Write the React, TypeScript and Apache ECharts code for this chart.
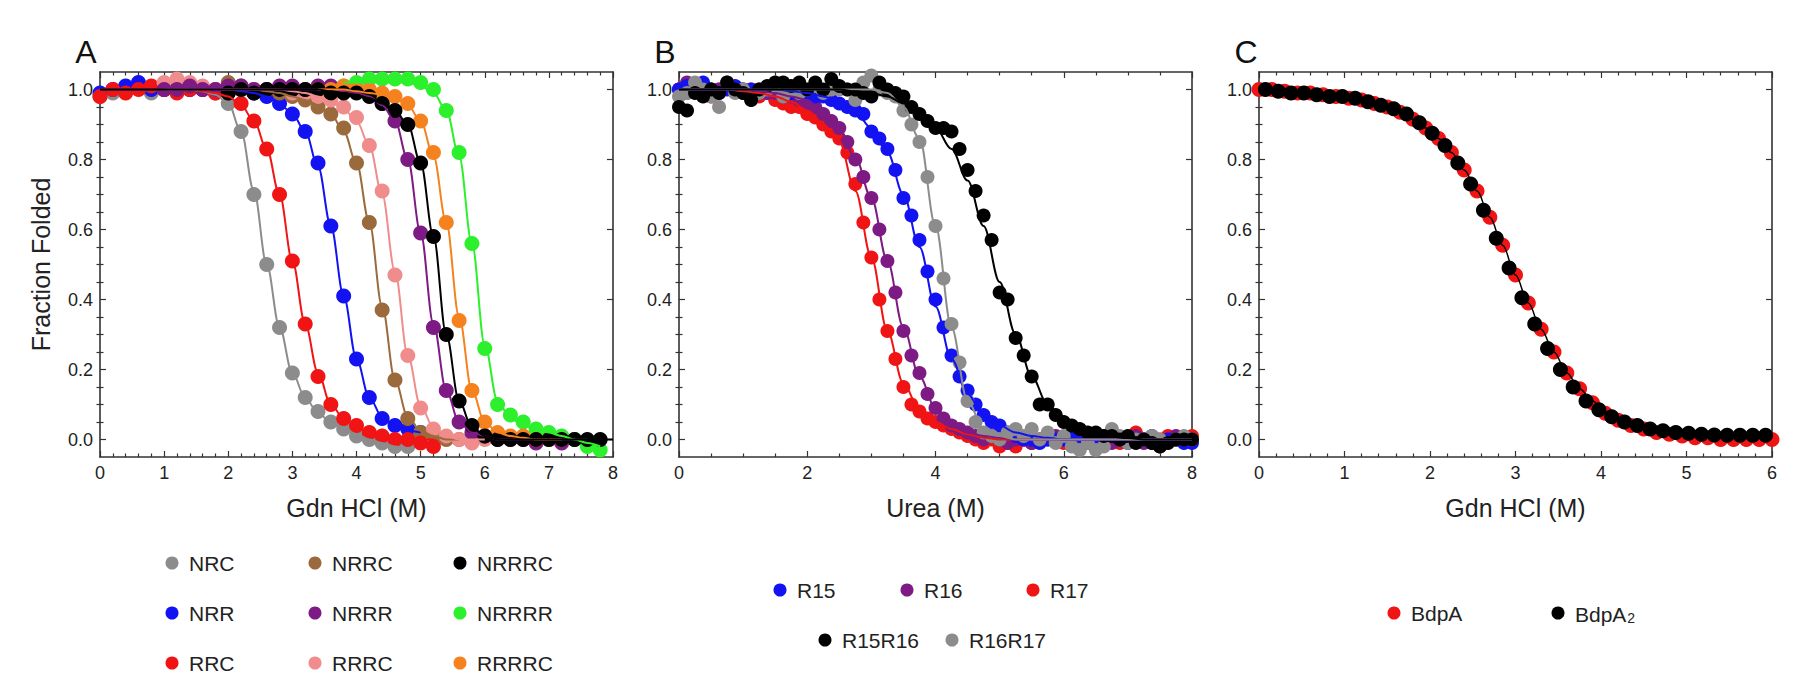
import React, { useEffect, useRef } from 'react';
import * as echarts from 'echarts';

const FONT = '"Liberation Sans", Arial, Helvetica, sans-serif';
const _ = null;

// ---------- Panel A : Gdn HCl (M), 0.2 M steps ----------
const xA = [0, 0.2, 0.4, 0.6, 0.8, 1.0, 1.2, 1.4, 1.6, 1.8, 2.0, 2.2, 2.4, 2.6, 2.8, 3.0, 3.2, 3.4, 3.6, 3.8,
  4.0, 4.2, 4.4, 4.6, 4.8, 5.0, 5.2, 5.4, 5.6, 5.8, 6.0, 6.2, 6.4, 6.6, 6.8, 7.0, 7.2, 7.4, 7.6, 7.8, 8.0];

const NRC = [0.98, 0.99, 1.0, 1.01, 0.99, 1.0, 1.01, 1.0, 1.0, 0.99, 0.96, 0.88, 0.70, 0.50, 0.32, 0.19, 0.12, 0.08, 0.05, 0.03,
  0.01, 0.0, -0.01, -0.02, -0.02, _, _, _, _, _, _, _, _, _, _, _, _, _, _, _, _];
const NRC_fit = [1, 1, 1, 1, 1, 1, 1, 1, 0.995, 0.985, 0.96, 0.88, 0.71, 0.50, 0.32, 0.19, 0.12, 0.075, 0.05, 0.03,
  0.015, 0.0, -0.01, -0.02, -0.03, _, _, _, _, _, _, _, _, _, _, _, _, _, _, _, _];

const RRC = [0.98, 1.0, 0.99, 1.0, 1.01, 1.0, 0.99, 1.0, 1.0, 0.99, 0.99, 0.96, 0.91, 0.83, 0.70, 0.51, 0.33, 0.18, 0.10, 0.06,
  0.04, 0.02, 0.01, 0.0, 0.0, -0.01, -0.02, _, _, _, _, _, _, _, _, _, _, _, _, _, _];
const RRC_fit = [1, 1, 1, 1, 1, 1, 1, 1, 0.995, 0.99, 0.98, 0.955, 0.91, 0.83, 0.70, 0.51, 0.33, 0.19, 0.10, 0.06,
  0.035, 0.02, 0.01, 0.005, 0, 0, 0, _, _, _, _, _, _, _, _, _, _, _, _, _, _];

const NRR = [0.99, 1.0, 1.01, 1.02, 1.0, 1.0, 1.01, 1.0, 1.0, 1.0, 1.0, 1.0, 0.99, 0.98, 0.96, 0.93, 0.88, 0.79, 0.61, 0.41,
  0.23, 0.12, 0.06, 0.04, 0.03, 0.02, _, _, _, _, _, _, _, _, _, _, _, _, _, _, _];
const NRR_fit = [1, 1, 1, 1, 1, 1, 1, 1, 1, 1, 1, 0.995, 0.99, 0.98, 0.96, 0.93, 0.88, 0.78, 0.61, 0.41,
  0.23, 0.12, 0.065, 0.04, 0.025, 0.02, _, _, _, _, _, _, _, _, _, _, _, _, _, _, _];

const NRRC = [_, _, _, _, _, _, _, _, _, _, 1.02, 1.01, 1.0, 1.0, 0.99, 0.98, 0.97, 0.95, 0.93, 0.89,
  0.79, 0.62, 0.37, 0.17, 0.06, 0.02, 0.01, 0.0, 0.0, _, _, _, _, _, _, _, _, _, _, _, _];
const NRRC_fit = [_, _, _, _, _, _, _, _, _, _, 1.0, 1.0, 1.0, 0.995, 0.99, 0.98, 0.97, 0.955, 0.93, 0.88,
  0.79, 0.62, 0.38, 0.17, 0.065, 0.025, 0.01, 0.0, 0.0, _, _, _, _, _, _, _, _, _, _, _, _];

const NRRR = [_, _, _, _, _, 1.0, 1.0, 1.01, 1.0, 1.0, 1.01, 1.01, 1.0, 1.0, 1.01, 1.01, 1.0, 1.01, 1.01, 1.0,
  1.0, 0.99, 0.96, 0.91, 0.80, 0.59, 0.32, 0.14, 0.05, 0.02, 0.01, 0.0, 0.0, 0.0, -0.01, 0.0, -0.01, 0.0, -0.01, _, _];
const NRRR_fit = [_, _, _, _, _, 1, 1, 1, 1, 1, 1, 1, 1, 1, 1, 1, 1, 1, 1, 0.995,
  0.99, 0.98, 0.955, 0.91, 0.80, 0.59, 0.33, 0.14, 0.05, 0.02, 0.01, 0, 0, 0, 0, 0, 0, 0, 0, _, _];

const RRRC = [_, _, _, _, _, 1.02, 1.03, 1.02, 1.01, 1.0, 1.0, 1.0, 1.0, 1.0, 1.0, 0.99, 0.99, 0.98, 0.97, 0.95,
  0.92, 0.84, 0.71, 0.47, 0.24, 0.09, 0.03, 0.01, 0.0, -0.01, 0.0, _, _, _, _, _, _, _, _, _, _];
const RRRC_fit = [_, _, _, _, _, 1, 1, 1, 1, 1, 1, 1, 1, 1, 1, 0.995, 0.99, 0.98, 0.965, 0.945,
  0.91, 0.84, 0.70, 0.48, 0.24, 0.095, 0.035, 0.01, 0.0, 0.0, 0.0, _, _, _, _, _, _, _, _, _, _];

const NRRRC = [_, _, _, _, _, _, _, _, _, _, 0.99, 1.0, 0.99, 1.0, 1.0, 1.0, 1.0, 1.0, 0.99, 0.99,
  0.99, 0.98, 0.96, 0.94, 0.90, 0.79, 0.58, 0.30, 0.11, 0.04, 0.01, 0.0, 0.0, 0.0, 0.0, 0.0, 0.0, 0.0, 0.0, 0.0, _];
const NRRRC_fit = [1, 1, 1, 1, 1, 1, 1, 1, 1, 1, 1, 1, 1, 1, 1, 1, 1, 1, 0.995, 0.99,
  0.985, 0.975, 0.96, 0.94, 0.90, 0.79, 0.58, 0.30, 0.11, 0.035, 0.01, 0, 0, 0, 0, 0, 0, 0, 0, 0, 0];

const RRRRC = [_, _, _, _, _, _, _, _, _, _, _, _, _, _, _, _, _, 1.0, 1.0, 1.01,
  1.0, 1.0, 0.99, 0.98, 0.96, 0.91, 0.82, 0.62, 0.34, 0.14, 0.05, 0.02, 0.01, 0.01, 0.0, 0.0, 0.0, _, _, _, _];
const RRRRC_fit = [_, _, _, _, _, _, _, _, _, _, _, _, _, _, _, _, _, 1, 1, 1,
  0.995, 0.99, 0.985, 0.975, 0.955, 0.91, 0.81, 0.62, 0.35, 0.14, 0.05, 0.02, 0.01, 0.005, 0, 0, 0, _, _, _, _];

const NRRRR = [_, _, _, _, _, _, _, _, _, _, _, _, _, _, _, _, _, _, _, 1.01,
  1.02, 1.03, 1.03, 1.03, 1.03, 1.02, 1.0, 0.94, 0.82, 0.56, 0.26, 0.10, 0.07, 0.05, 0.03, 0.02, 0.01, 0.0, -0.02, -0.03, _];
const NRRRR_fit = [_, _, _, _, _, _, _, _, _, _, _, _, _, _, _, _, _, _, _, 1.02,
  1.02, 1.02, 1.02, 1.02, 1.02, 1.01, 0.99, 0.94, 0.81, 0.56, 0.27, 0.11, 0.06, 0.04, 0.03, 0.02, 0.01, 0.0, -0.01, -0.02, _];

// ---------- Panel B : Urea (M), 0.125 M steps ----------
const xB = [0, 0.125, 0.25, 0.375, 0.5, 0.625, 0.75, 0.875, 1, 1.125, 1.25, 1.375, 1.5, 1.625, 1.75, 1.875,
  2, 2.125, 2.25, 2.375, 2.5, 2.625, 2.75, 2.875, 3, 3.125, 3.25, 3.375, 3.5, 3.625, 3.75, 3.875,
  4, 4.125, 4.25, 4.375, 4.5, 4.625, 4.75, 4.875, 5, 5.125, 5.25, 5.375, 5.5, 5.625, 5.75, 5.875,
  6, 6.125, 6.25, 6.375, 6.5, 6.625, 6.75, 6.875, 7, 7.125, 7.25, 7.375, 7.5, 7.625, 7.75, 7.875, 8];
const xBfit = [0, 0.25, 0.5, 0.75, 1, 1.25, 1.5, 1.75, 2, 2.25, 2.5, 2.75, 3, 3.25, 3.5, 3.75, 4, 4.25, 4.5, 4.75,
  5, 5.25, 5.5, 5.75, 6, 6.25, 6.5, 6.75, 7, 7.25, 7.5, 7.75, 8];

const R17 = [1.0, 0.99, 1.01, 1.0, 0.98, 1.0, 1.01, 1.0, 0.99, 1.0, 0.98, 0.99, 0.97, 0.96, 0.95, 0.95,
  0.93, 0.92, 0.90, 0.88, 0.86, 0.82, 0.73, 0.62, 0.52, 0.40, 0.31, 0.23, 0.15, 0.10, 0.08, 0.06,
  0.05, 0.04, 0.03, 0.02, 0.01, 0.0, -0.01, 0.0, -0.02, -0.01, -0.02, 0.0, -0.01, 0.0, 0.01, 0.0,
  -0.01, 0.0, -0.02, -0.01, 0.0, 0.01, 0.0, -0.01, 0.0, 0.02, 0.0, -0.01, 0.0, 0.01, 0.0, 0.0, 0.01];
const R17_fit = [1, 1, 1, 1, 0.995, 0.99, 0.98, 0.965, 0.94, 0.90, 0.85, 0.71, 0.52, 0.31, 0.16, 0.085,
  0.05, 0.03, 0.015, 0.005, 0, 0, 0, 0, 0, 0, 0, 0, 0, 0, 0, 0, 0];

const R16 = [1.0, 1.02, 1.0, 0.99, 1.0, 1.0, 1.01, 1.0, 1.0, 0.99, 1.0, 0.99, 0.99, 0.98, 0.98, 0.97,
  0.96, 0.95, 0.93, 0.91, 0.89, 0.85, 0.80, 0.75, 0.69, 0.60, 0.51, 0.42, 0.31, 0.24, 0.19, 0.13,
  0.09, 0.06, 0.04, 0.03, 0.02, 0.01, 0.0, 0.01, 0.0, -0.01, 0.0, 0.0, -0.01, 0.0, 0.0, 0.01,
  0.0, -0.01, 0.0, 0.0, 0.01, 0.0, -0.01, 0.0, 0.0, 0.01, -0.01, 0.0, -0.02, 0.0, 0.01, 0.0, 0.0];
const R16_fit = [1, 1, 1, 1, 1, 0.995, 0.99, 0.98, 0.97, 0.93, 0.885, 0.805, 0.69, 0.51, 0.32, 0.18,
  0.09, 0.045, 0.02, 0.01, 0.005, 0, 0, 0, 0, 0, 0, 0, 0, 0, 0, 0, 0];

const R15 = [1.0, 1.01, 1.0, 1.02, 1.0, 0.99, 1.0, 1.01, 1.0, 1.0, 0.99, 1.0, 1.01, 1.0, 0.99, 1.0,
  0.99, 0.98, 0.98, 0.97, 0.96, 0.95, 0.94, 0.93, 0.88, 0.86, 0.83, 0.77, 0.69, 0.64, 0.57, 0.48,
  0.40, 0.32, 0.24, 0.18, 0.14, 0.10, 0.07, 0.05, 0.04, 0.02, 0.01, 0.0, 0.0, -0.01, 0.0, 0.0,
  0.0, 0.01, 0.0, -0.01, 0.0, 0.0, 0.01, 0.0, -0.01, 0.0, 0.0, 0.01, -0.01, 0.0, 0.0, -0.01, -0.01];
const R15_fit = [1, 1, 1, 1, 1, 1, 1, 0.995, 0.99, 0.98, 0.965, 0.935, 0.89, 0.82, 0.70, 0.55,
  0.38, 0.23, 0.13, 0.07, 0.04, 0.02, 0.01, 0.005, 0, 0, 0, 0, 0, 0, 0, 0, 0];

const R15R16 = [0.95, 0.94, 0.99, 0.98, 1.0, 0.99, 1.02, 1.0, 0.99, 0.97, 1.0, 1.01, 1.02, 1.02, 1.01, 1.02,
  1.0, 1.02, 1.0, 1.03, 1.01, 1.0, 1.0, 0.99, 0.98, 1.02, 1.0, 0.99, 0.98, 0.95, 0.93, 0.91,
  0.89, 0.89, 0.88, 0.83, 0.77, 0.71, 0.64, 0.57, 0.42, 0.40, 0.29, 0.24, 0.18, 0.10, 0.10, 0.07,
  0.05, 0.04, 0.03, 0.02, 0.02, 0.01, 0.01, 0.0, 0.01, -0.01, 0.0, -0.01, -0.02, -0.01, 0.0, 0.0, 0.0];
const R15R16_fit = [1, 1, 1, 1, 1, 1, 1, 1, 1, 1, 1, 0.995, 0.99, 0.98, 0.96, 0.93,
  0.89, 0.83, 0.74, 0.61, 0.45, 0.30, 0.18, 0.10, 0.055, 0.03, 0.015, 0.008, 0.004, 0, 0, 0, 0];

const R16R17 = [0.98, 0.99, 1.02, 1.0, 0.98, 0.95, 1.02, 0.99, 1.0, 0.97, 0.99, 1.0, 1.01, 0.98, 1.0, 0.99,
  1.0, 1.01, 0.99, 1.0, 1.0, 1.0, 0.97, 1.02, 1.04, 1.0, 0.99, 0.98, 0.94, 0.90, 0.85, 0.75,
  0.61, 0.46, 0.33, 0.22, 0.11, 0.05, 0.02, 0.01, 0.0, 0.02, 0.03, 0.01, 0.03, 0.0, 0.02, -0.01,
  0.01, -0.02, -0.03, -0.01, -0.03, -0.02, 0.03, 0.01, -0.01, 0.0, 0.0, 0.01, 0.0, -0.01, 0.0, 0.01, 0.0];
const R16R17_fit = [1, 1, 1, 1, 1, 1, 1, 1, 1, 1, 1, 1, 1, 0.99, 0.95, 0.86,
  0.61, 0.32, 0.11, 0.03, 0.01, 0, 0, 0, 0, 0, 0, 0, 0, 0, 0, 0, 0];

// ---------- Panel C : Gdn HCl (M) ----------
const xCred = [0, 0.15, 0.3, 0.45, 0.6, 0.75, 0.9, 1.05, 1.2, 1.35, 1.5, 1.65, 1.8, 1.95, 2.1, 2.25, 2.4, 2.55, 2.7, 2.85,
  3.0, 3.15, 3.3, 3.45, 3.6, 3.75, 3.9, 4.05, 4.2, 4.35, 4.5, 4.65, 4.8, 4.95, 5.1, 5.25, 5.4, 5.55, 5.7, 5.85, 6.0];
const xCblack = [0.075, 0.225, 0.375, 0.525, 0.675, 0.825, 0.975, 1.125, 1.275, 1.425, 1.575, 1.725, 1.875, 2.025,
  2.175, 2.325, 2.475, 2.625, 2.775, 2.925, 3.075, 3.225, 3.375, 3.525, 3.675, 3.825, 3.975, 4.125, 4.275, 4.425,
  4.575, 4.725, 4.875, 5.025, 5.175, 5.325, 5.475, 5.625, 5.775, 5.925];

const BdpA = [1.0, 1.0, 0.995, 0.99, 0.99, 0.985, 0.98, 0.975, 0.97, 0.96, 0.95, 0.935, 0.915, 0.89, 0.86, 0.82, 0.77, 0.71, 0.635, 0.555,
  0.47, 0.39, 0.315, 0.25, 0.19, 0.145, 0.105, 0.075, 0.055, 0.04, 0.03, 0.02, 0.015, 0.01, 0.005, 0.005, 0.0, 0.0, 0.0, 0.0, 0.0];
const BdpA2 = [1.0, 0.995, 0.99, 0.99, 0.985, 0.98, 0.98, 0.975, 0.965, 0.955, 0.945, 0.93, 0.905, 0.875, 0.84, 0.79, 0.73, 0.655, 0.575, 0.49,
  0.405, 0.33, 0.26, 0.20, 0.15, 0.11, 0.085, 0.065, 0.05, 0.04, 0.03, 0.025, 0.02, 0.018, 0.015, 0.013, 0.012, 0.012, 0.012, 0.012];
const BdpA_fit = [1.0, 1.0, 0.995, 0.99, 0.99, 0.985, 0.98, 0.975, 0.97, 0.96, 0.95, 0.935, 0.915, 0.89, 0.86, 0.82, 0.77, 0.71, 0.635, 0.555,
  0.47, 0.39, 0.315, 0.25, 0.19, 0.145, 0.11, 0.08, 0.06, 0.045, 0.035, 0.027, 0.02, 0.017, 0.014, 0.012, 0.01, 0.01, 0.01, 0.01, 0.01];

const yMajor = [0, 0.2, 0.4, 0.6, 0.8, 1.0];

const C = {
  gray: '#8c8c8c', blue: '#1212f2', red: '#f01414', brown: '#9b6a3c', purple: '#7e1a84',
  pink: '#f08c8c', black: '#000000', green: '#2cf02c', orange: '#f5821e',
};

type S = { name: string; color: string; x: number[]; y: (number | null)[]; fx: number[]; fy: (number | null)[] };

const panelA: S[] = [
  { name: 'NRC', color: C.gray, x: xA, y: NRC, fx: xA, fy: NRC_fit },
  { name: 'NRR', color: C.blue, x: xA, y: NRR, fx: xA, fy: NRR_fit },
  { name: 'NRRC', color: C.brown, x: xA, y: NRRC, fx: xA, fy: NRRC_fit },
  { name: 'RRC', color: C.red, x: xA, y: RRC, fx: xA, fy: RRC_fit },
  { name: 'RRRC', color: C.pink, x: xA, y: RRRC, fx: xA, fy: RRRC_fit },
  { name: 'NRRR', color: C.purple, x: xA, y: NRRR, fx: xA, fy: NRRR_fit },
  { name: 'NRRRR', color: C.green, x: xA, y: NRRRR, fx: xA, fy: NRRRR_fit },
  { name: 'RRRRC', color: C.orange, x: xA, y: RRRRC, fx: xA, fy: RRRRC_fit },
  { name: 'NRRRC', color: C.black, x: xA, y: NRRRC, fx: xA, fy: NRRRC_fit },
];
const panelB: S[] = [
  { name: 'R17', color: C.red, x: xB, y: R17, fx: xBfit, fy: R17_fit },
  { name: 'R16', color: C.purple, x: xB, y: R16, fx: xBfit, fy: R16_fit },
  { name: 'R15', color: C.blue, x: xB, y: R15, fx: xBfit, fy: R15_fit },
  { name: 'R16R17', color: C.gray, x: xB, y: R16R17, fx: xBfit, fy: R16R17_fit },
  { name: 'R15R16', color: C.black, x: xB, y: R15R16, fx: xBfit, fy: R15R16_fit },
];
const panelC: S[] = [
  { name: 'BdpA', color: C.red, x: xCred, y: BdpA, fx: [], fy: [] },
  { name: 'BdpA2', color: C.black, x: xCblack, y: BdpA2, fx: xCred, fy: BdpA_fit },
];

// legend layout (marker centre x, row y)
const legendA = [
  ['NRC', C.gray, 172, 563], ['NRRC', C.brown, 315, 563], ['NRRRC', C.black, 460, 563],
  ['NRR', C.blue, 172, 613], ['NRRR', C.purple, 315, 613], ['NRRRR', C.green, 460, 613],
  ['RRC', C.red, 172, 663], ['RRRC', C.pink, 315, 663], ['RRRRC', C.orange, 460, 663],
];
const legendB = [
  ['R15', C.blue, 780, 590], ['R16', C.purple, 907, 590], ['R17', C.red, 1033, 590],
  ['R15R16', C.black, 825, 640], ['R16R17', C.gray, 952, 640],
];

function pts(xs: number[], ys: (number | null)[]) {
  const out: number[][] = [];
  ys.forEach((y, i) => { if (y !== null && y !== undefined) out.push([xs[i], y]); });
  return out;
}

const GRIDS = [
  { left: 100, top: 72, width: 513, height: 385 },
  { left: 679, top: 72, width: 513, height: 385 },
  { left: 1259, top: 72, width: 513, height: 385 },
];
const X_MAX = [8, 8, 6];
const X_INT = [1, 2, 1];
const X_MINOR = [5, 4, 5];
const X_NAMES = ['Gdn HCl (M)', 'Urea (M)', 'Gdn HCl (M)'];

export default function App() {
  const ref = useRef<HTMLDivElement>(null);
  useEffect(() => {
    if (!ref.current) return;
    const chart = echarts.init(ref.current, null, { renderer: 'svg' });
    const lineSt = { color: '#333', width: 1.6 };
    const tickSt = { color: '#333', width: 1.2 };
    const yMinor: number[] = [];
    for (let k = 0; k <= 20; k++) if (k % 4 !== 0) yMinor.push(Math.round(k * 5) / 100);

    const xAxis: any[] = [];
    const yAxis: any[] = [];
    for (let p = 0; p < 3; p++) {
      const base = {
        type: 'value', gridIndex: p, min: 0, max: X_MAX[p], interval: X_INT[p],
        axisLine: { show: true, onZero: false, lineStyle: lineSt },
        axisTick: { show: true, inside: true, length: 6, lineStyle: tickSt },
        minorTick: { show: true, splitNumber: X_MINOR[p], length: 3.5, lineStyle: tickSt },
        splitLine: { show: false }, minorSplitLine: { show: false },
      };
      xAxis.push({
        ...base, position: 'bottom',
        axisLabel: { show: true, fontSize: 18, color: '#222', margin: 7, fontFamily: FONT },
        name: X_NAMES[p], nameLocation: 'middle', nameGap: 38,
        nameTextStyle: { fontSize: 25, color: '#222', fontFamily: FONT },
      });
      xAxis.push({ ...base, position: 'top', axisLabel: { show: false } });

      const yb = {
        type: 'value', gridIndex: p, min: -0.05, max: 1.05,
        splitLine: { show: false },
      };
      for (const pos of ['left', 'right']) {
        yAxis.push({
          ...yb, position: pos,
          axisLine: { show: true, onZero: false, lineStyle: lineSt },
          axisTick: { show: true, inside: true, length: 6, customValues: yMajor, lineStyle: tickSt },
          axisLabel: pos === 'left'
            ? { show: true, customValues: yMajor, formatter: (v: number) => v.toFixed(1), fontSize: 18, color: '#222', margin: 7, fontFamily: FONT }
            : { show: false },
          name: pos === 'left' && p === 0 ? 'Fraction Folded' : '',
          nameLocation: 'middle', nameGap: 47,
          nameTextStyle: { fontSize: 25, color: '#222', fontFamily: FONT },
        });
        yAxis.push({
          ...yb, position: pos,
          axisLine: { show: false },
          axisTick: { show: true, inside: true, length: 3.5, customValues: yMinor, lineStyle: tickSt },
          axisLabel: { show: false },
        });
      }
    }

    const series: any[] = [];
    const panels = [panelA, panelB, panelC];
    const sizes = [15, 14, 15];
    panels.forEach((list, p) => {
      list.forEach((s) => {
        series.push({
          type: 'scatter', name: s.name, xAxisIndex: 2 * p, yAxisIndex: 4 * p,
          data: pts(s.x, s.y), symbol: 'circle', symbolSize: sizes[p],
          itemStyle: { color: s.color, opacity: 1 }, silent: true,
        });
        if (s.fy.length) {
          series.push({
            type: 'line', name: s.name + ' fit', xAxisIndex: 2 * p, yAxisIndex: 4 * p,
            data: pts(s.fx, s.fy), showSymbol: false, symbol: 'none', smooth: 0.35, smoothMonotone: 'x',
            lineStyle: { color: s.color, width: p === 2 ? 1.5 : 2 }, silent: true,
          });
        }
      });
    });

    const graphic: any[] = [];
    const letters: [string, number][] = [['A', 86], ['B', 665], ['C', 1246]];
    letters.forEach(([t, x]) => graphic.push({
      type: 'text', x, y: 52,
      style: { text: t, fontSize: 32, fontFamily: FONT, fill: '#111', align: 'center', verticalAlign: 'middle' },
    }));
    const addLegend = (name: string, color: string, cx: number, cy: number, rich?: any) => {
      graphic.push({ type: 'circle', shape: { cx, cy, r: 6.5 }, style: { fill: color } });
      graphic.push({
        type: 'text', x: cx + 17, y: cy,
        style: rich
          ? { text: name, rich, fontFamily: FONT, align: 'left', verticalAlign: 'middle' }
          : { text: name, fontSize: 21, fontFamily: FONT, fill: '#222', align: 'left', verticalAlign: 'middle' },
      });
    };
    legendA.forEach(([n, c, x, y]) => addLegend(n as string, c as string, x as number, y as number));
    legendB.forEach(([n, c, x, y]) => addLegend(n as string, c as string, x as number, y as number));
    addLegend('BdpA', C.red, 1394, 613);
    addLegend('{a|BdpA}{s|2}', C.black, 1558, 613, {
      a: { fontSize: 21, fontFamily: FONT, fill: '#222', lineHeight: 24, verticalAlign: 'bottom' },
      s: { fontSize: 14, fontFamily: FONT, fill: '#222', lineHeight: 14, verticalAlign: 'bottom', padding: [0, 0, 0, 1] },
    });

    chart.setOption({
      animation: false,
      backgroundColor: '#ffffff',
      textStyle: { fontFamily: FONT },
      grid: GRIDS,
      xAxis, yAxis, series, graphic,
    });
    return () => chart.dispose();
  }, []);
  return <div ref={ref} style={{ position: 'absolute', left: 0, top: 0, width: 1800, height: 690, background: '#fff' }} />;
}
